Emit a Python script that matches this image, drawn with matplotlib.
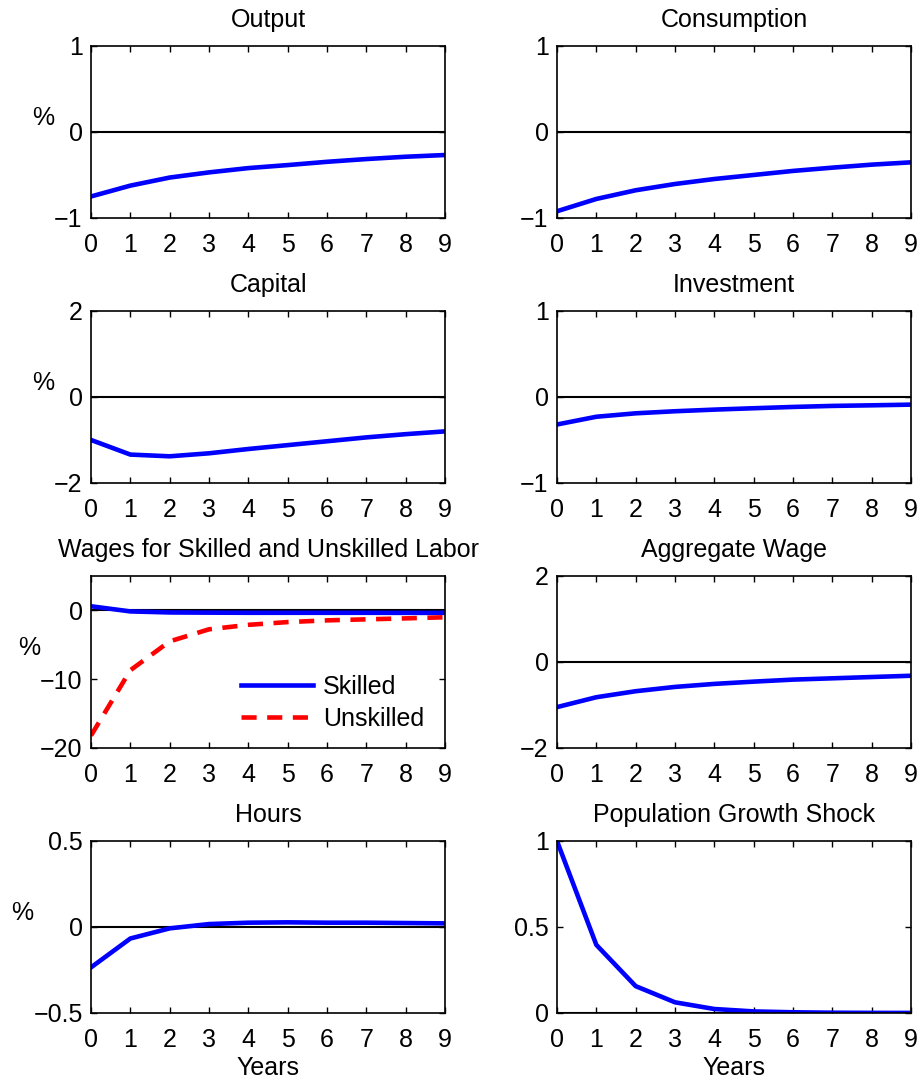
import matplotlib
matplotlib.use("Agg")
import matplotlib.pyplot as plt
import numpy as np

plt.rcParams['font.family'] = ['Liberation Sans', 'DejaVu Sans']
plt.rcParams['font.size'] = 18

years = np.arange(10)

output = [-0.75, -0.624, -0.53, -0.47, -0.42, -0.385, -0.347, -0.315, -0.288, -0.268]
consumption = [-0.922, -0.779, -0.678, -0.605, -0.547, -0.5, -0.453, -0.415, -0.38, -0.353]
capital = [-1.0, -1.34, -1.38, -1.31, -1.21, -1.12, -1.03, -0.94, -0.865, -0.80]
investment = [-0.32, -0.23, -0.19, -0.166, -0.147, -0.131, -0.116, -0.104, -0.097, -0.089]
wage_skilled = [0.6, -0.15, -0.3, -0.33, -0.35, -0.35, -0.35, -0.35, -0.36, -0.36]
wage_unskilled = [-18.2, -8.7, -4.5, -2.75, -2.1, -1.7, -1.45, -1.3, -1.16, -1.0]
aggregate_wage = [-1.05, -0.82, -0.68, -0.58, -0.51, -0.457, -0.41, -0.38, -0.35, -0.32]
hours = [-0.235, -0.067, -0.008, 0.017, 0.025, 0.027, 0.025, 0.025, 0.023, 0.021]
pop_shock = [1.0, 0.396, 0.156, 0.062, 0.023, 0.009, 0.004, 0.0015, 0.0006, 0.0002]

titles = ["Output", "Consumption", "Capital", "Investment",
          "Wages for Skilled and Unskilled Labor", "Aggregate Wage",
          "Hours", "Population Growth Shock"]
series = [output, consumption, capital, investment, None, aggregate_wage, hours, pop_shock]
ylims = [(-1, 1), (-1, 1), (-2, 2), (-1, 1), (-20, 5), (-2, 2), (-0.5, 0.5), (0, 1)]
yticks = [[-1, 0, 1], [-1, 0, 1], [-2, 0, 2], [-1, 0, 1], [-20, -10, 0],
          [-2, 0, 2], [-0.5, 0, 0.5], [0, 0.5, 1]]
yticklabels = [["\u22121", "0", "1"], ["\u22121", "0", "1"], ["\u22122", "0", "2"],
               ["\u22121", "0", "1"], ["\u221220", "\u221210", "0"], ["\u22122", "0", "2"],
               ["\u22120.5", "0", "0.5"], ["0", "0.5", "1"]]

fig, axes = plt.subplots(4, 2, figsize=(9.24, 10.82), dpi=100)
fig.subplots_adjust(left=0.0985, right=0.986, top=0.9575, bottom=0.0638,
                    wspace=0.316, hspace=0.541)

for i, ax in enumerate(axes.flat):
    ax.axhline(0, color='black', lw=1.5, zorder=1)
    if i == 4:
        ax.plot(years, wage_skilled, color=(0, 0, 1), lw=3.3, label='Skilled', zorder=2)
        ax.plot(years, wage_unskilled, color=(1, 0, 0), lw=3.3, ls=(0, (3.3, 2.3)),
                label='Unskilled', zorder=2)
        ax.legend(loc='lower right', bbox_to_anchor=(1.005, -0.03), frameon=False,
                  handlelength=2.9, labelspacing=0.31, handletextpad=0.4,
                  fontsize=18)
    else:
        ax.plot(years, series[i], color=(0, 0, 1), lw=3.3, zorder=2)
    ax.set_xlim(0, 9)
    ax.set_ylim(*ylims[i])
    ax.set_xticks(years)
    ax.set_yticks(yticks[i])
    ax.set_yticklabels(yticklabels[i])
    ax.set_title(titles[i], pad=14, fontsize=18)
    ax.tick_params(direction='in', top=True, right=True, length=4, width=1,
                   labelsize=18)
    ax.tick_params(axis='x', pad=11)
    ax.tick_params(axis='y', pad=6)
    for s in ax.spines.values():
        s.set_linewidth(1.2)
    if i % 2 == 0:
        ax.set_ylabel('%', rotation=0, ha='right', va='center', y=0.58,
                      labelpad=0, fontsize=18)
    if i >= 6:
        ax.set_xlabel('Years', labelpad=3, fontsize=18)

fig.savefig("out.png", dpi=100)
